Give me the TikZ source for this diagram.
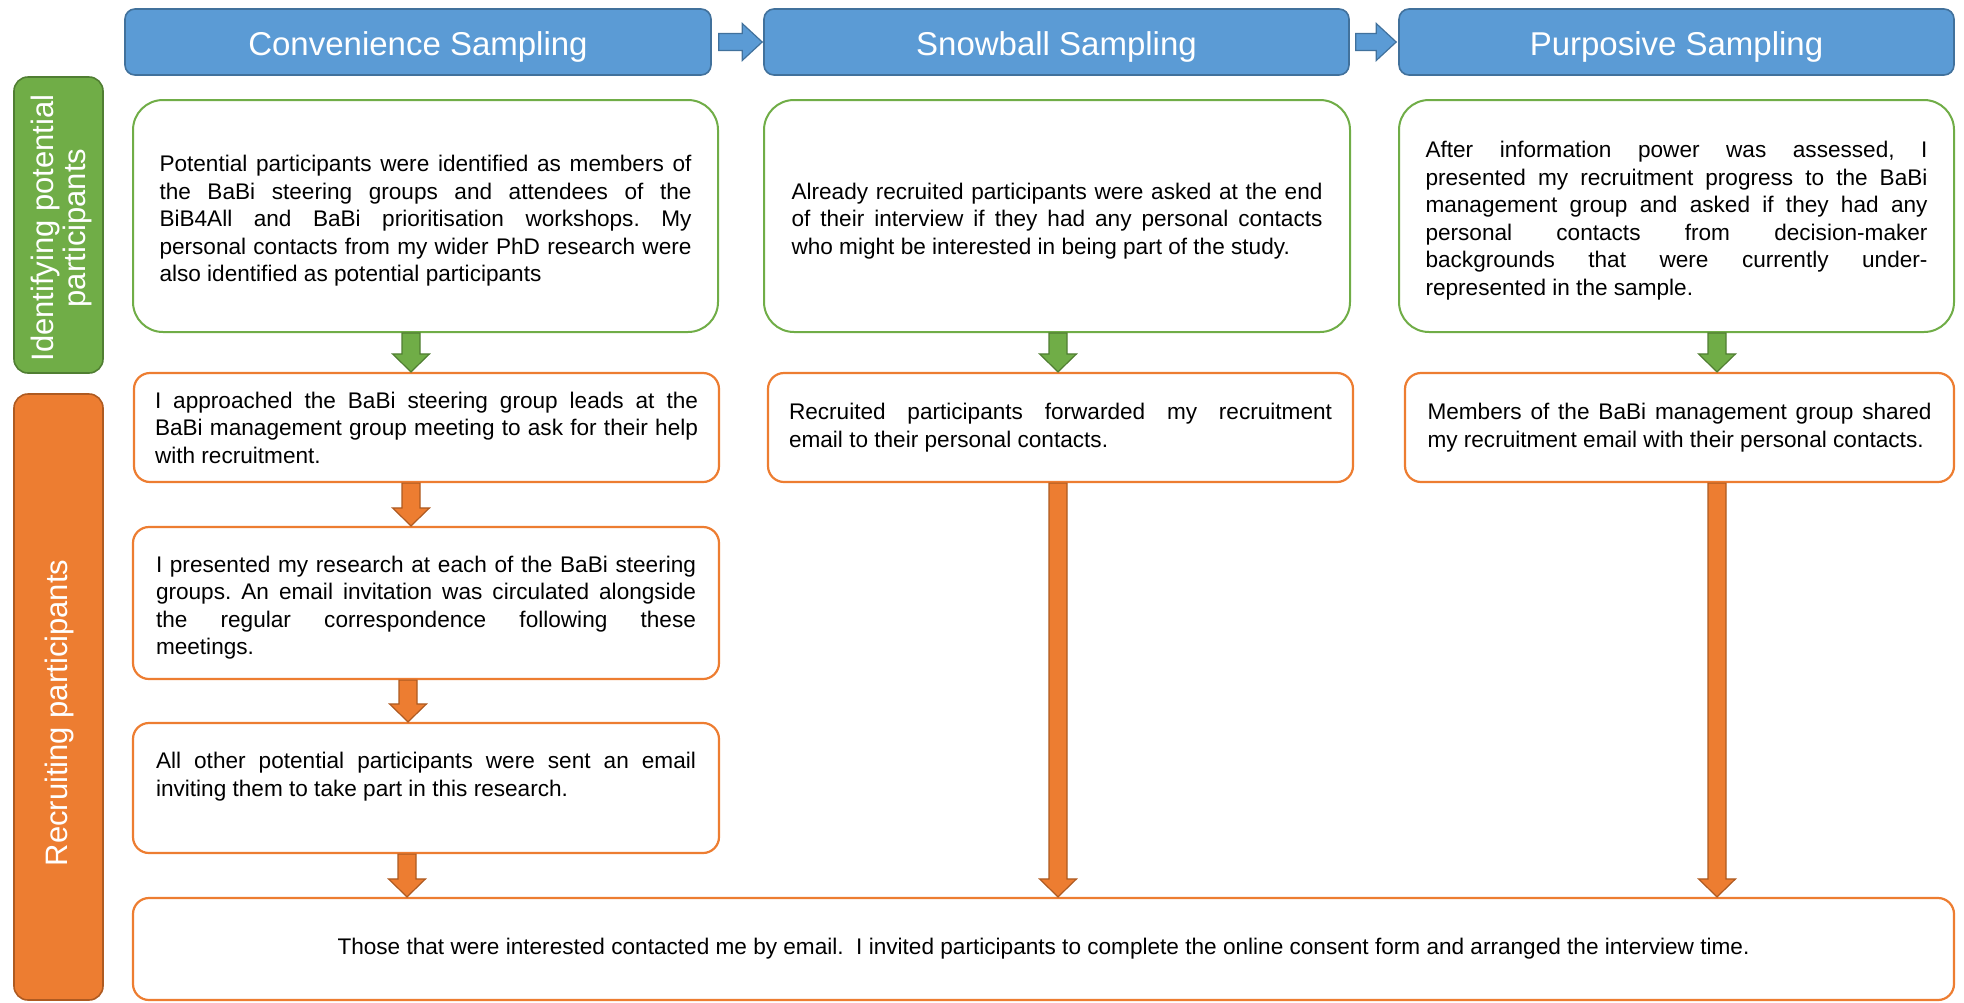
\documentclass[tikz,border=0pt]{standalone}
\usepackage{fontspec}
\setmainfont{Liberation Sans}
\usetikzlibrary{calc}
\definecolor{hblue}{HTML}{5B9BD5}
\definecolor{hblueD}{HTML}{41719C}
\definecolor{gr}{HTML}{70AD47}
\definecolor{grD}{HTML}{507E32}
\definecolor{og}{HTML}{ED7D31}
\definecolor{ogD}{HTML}{AE5A21}
\hyphenpenalty=10000
\exhyphenpenalty=10000
\tolerance=10000
\hbadness=10000
\frenchspacing
\newcommand\bodyfnt{\fontsize{11.3}{13.75}\selectfont\frenchspacing}
\newcommand\hdrfnt{\fontsize{16.5}{19}\selectfont}
\newcommand\sidefnt{\fontsize{15.5}{16}\selectfont}
\tikzset{
  downarrow/.style={to path={let \p1=(\tikztostart), \p2=(\tikztotarget) in
    (\x1-4.5pt,\y1) -- (\x1+4.5pt,\y1) -- (\x1+4.5pt,\y2+9pt) -- (\x1+9.25pt,\y2+9pt)
    -- (\x1,\y2) -- (\x1-9.25pt,\y2+9pt) -- (\x1-4.5pt,\y2+9pt) -- cycle}},
  rightarrow/.style={to path={let \p1=(\tikztostart), \p2=(\tikztotarget) in
    (\x1,\y1-4.25pt) -- (\x2-10pt,\y1-4.25pt) -- (\x2-10pt,\y1-9.25pt) -- (\x2,\y1)
    -- (\x2-10pt,\y1+9.25pt) -- (\x2-10pt,\y1+4.25pt) -- (\x1,\y1+4.25pt) -- cycle}},
  garrow/.style={fill=gr, draw=grD, line width=0.6pt, downarrow},
  oarrow/.style={fill=og, draw=ogD, line width=0.6pt, downarrow},
  barrow/.style={fill=hblue, draw=hblueD, line width=0.6pt, rightarrow},
  hdr/.style={draw=hblueD, line width=0.8pt, fill=hblue, rounded corners=5pt,
    minimum height=33pt, text=white, font=\hdrfnt, inner sep=0pt,
    text height=13.8pt, text depth=0pt},
  gbox/.style={draw=gr, line width=1pt, fill=white, rounded corners=15pt,
    minimum height=116pt, inner sep=0pt, align=justify, font=\bodyfnt},
  obox/.style={draw=og, line width=1.1pt, fill=white, rounded corners=8pt,
    inner sep=0pt, align=justify, font=\bodyfnt},
  sidebar/.style={rounded corners=7pt, line width=0.8pt, minimum width=44.5pt},
  sidelabel/.style={rotate=90, text=white, font=\sidefnt, align=center, inner sep=0pt},
}
\begin{document}
\begin{tikzpicture}[x=0.5pt,y=-0.5pt]
\useasboundingbox (0,0) rectangle (1964,1002);

% headers
\node[hdr, minimum width=293pt] (H1) at (418,42) {Convenience Sampling};
\node[hdr, minimum width=292.5pt] (H2) at (1056.5,42) {Snowball Sampling};
\node[hdr, minimum width=277.5pt] (H3) at (1676.5,42) {Purposive Sampling};
\draw[barrow] ([xshift=3.5pt]H1.east) to ([xshift=-0.5pt]H2.west);
\draw[barrow] ([xshift=3pt]H2.east) to ([xshift=-1pt]H3.west);

% side bars
\node[sidebar, fill=gr, draw=grD, minimum height=148pt] (SG) at (58.5,225) {};
\node[sidelabel] (SGt) at (61,228) {Identifying potential\\participants};
\node[sidebar, fill=og, draw=ogD, minimum height=303pt] (SO) at (58.5,697) {};
\node[sidelabel] (SOt) at (59,713) {Recruiting participants};

% green boxes
\node[gbox, minimum width=292.5pt, text width=266pt] (G1) at (425.5,216) {\rule{0pt}{13pt}Potential participants were identified as members of\linebreak the BaBi steering groups and attendees of the\linebreak BiB4All and BaBi prioritisation workshops. My\linebreak personal contacts from my wider PhD research were\linebreak also identified as potential participants};
\node[gbox, minimum width=293pt, text width=265.5pt] (G2) at (1057,216) {\rule{0pt}{13pt}Already recruited participants were asked at the end\linebreak of their interview if they had any personal contacts\linebreak who might be interested in being part of the study.};
\node[gbox, minimum width=277.5pt, text width=251pt] (G3) at (1676.5,216) {\rule{0pt}{13pt}After information power was assessed, I\linebreak presented my recruitment progress to the BaBi\linebreak management group and asked if they had any\linebreak personal contacts from decision-maker\linebreak backgrounds that were currently under-\linebreak represented in the sample.};

% orange boxes
\node[obox, minimum width=292.5pt, minimum height=54.5pt, text width=271.5pt] (O1) at (426.5,427.5) {I approached the BaBi steering group leads at the\linebreak BaBi management group meeting to ask for their help\linebreak with recruitment.};
\node[obox, minimum width=292.5pt, minimum height=54.5pt, text width=271.5pt] (O2) at (1060.5,427.5) {Recruited participants forwarded my recruitment\linebreak email to their personal contacts.};
\node[obox, minimum width=274.5pt, minimum height=54.5pt, text width=252pt] (O3) at (1679.5,427.5) {Members of the BaBi management group shared\linebreak my recruitment email with their personal contacts.};
\node[obox, minimum width=293pt, minimum height=76pt, text width=270pt] (O4) at (426,603) {\rule{0pt}{13pt}I presented my research at each of the BaBi steering\linebreak groups. An email invitation was circulated alongside\linebreak the regular correspondence following these\linebreak meetings.};
\node[obox, minimum width=293pt, minimum height=65pt, text width=270pt] (O5) at (426,788) {All other potential participants were sent an email\linebreak inviting them to take part in this research.\\ \mbox{}};
\node[obox, minimum width=910.5pt, minimum height=51pt, align=center] (BT) at (1043.5,949) {Those that were interested contacted me by email.~ I invited participants to complete the online consent form and arranged the interview time.};

% arrow x positions
\coordinate (xa) at (411,0);
\coordinate (xa2) at (408,0);
\coordinate (xa3) at (407,0);
\coordinate (xb) at (1058,0);
\coordinate (xc) at (1717,0);

\draw[garrow] (G1.south -| xa) to (O1.north -| xa);
\draw[garrow] (G2.south -| xb) to (O2.north -| xb);
\draw[garrow] (G3.south -| xc) to (O3.north -| xc);
\draw[oarrow] (O1.south -| xa) to (O4.north -| xa);
\draw[oarrow] (O4.south -| xa2) to (O5.north -| xa2);
\draw[oarrow] (O5.south -| xa3) to (BT.north -| xa3);
\draw[oarrow] (O2.south -| xb) to (BT.north -| xb);
\draw[oarrow] (O3.south -| xc) to (BT.north -| xc);
\end{tikzpicture}
\end{document}
